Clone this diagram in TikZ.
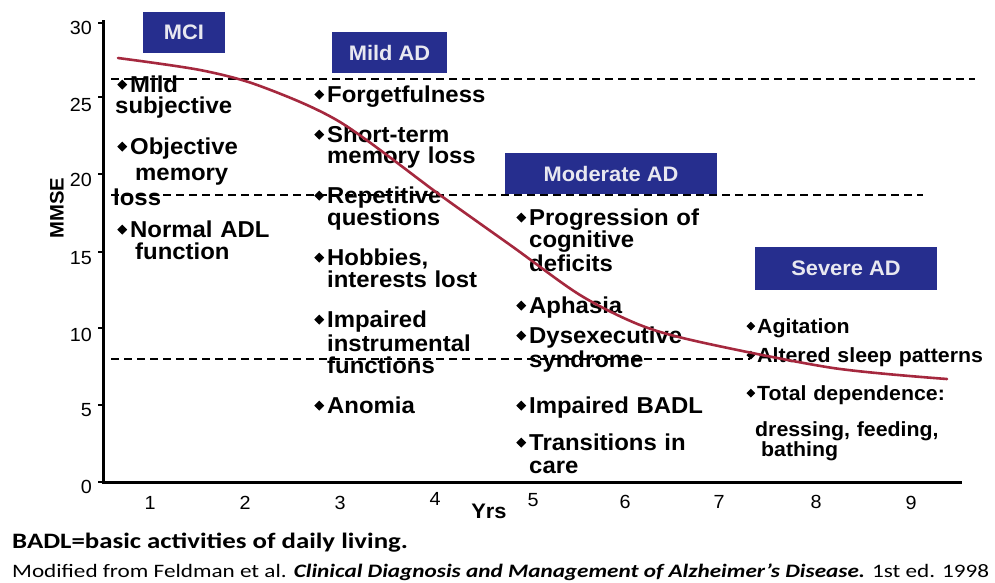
\documentclass[tikz,border=0pt]{standalone}
\usepackage{fontspec}
\usepackage{graphicx}
\setmainfont{Liberation Sans}
\newfontfamily\chartfont{Liberation Sans}[FakeStretch=1.04]
\newfontfamily\notefont{Carlito}[FakeStretch=1.22]
\definecolor{navy}{RGB}{38,46,142}
\definecolor{boxtext}{RGB}{232,232,240}
\definecolor{curvered}{RGB}{165,40,62}
\newcommand\dm[1][15pt]{\makebox[#1][r]{\raisebox{2.5pt}{\rotatebox{45}{\rule{7pt}{7pt}}}\hspace{3pt}}}
\newcommand\dms[1][13pt]{\makebox[#1][r]{\raisebox{2.5pt}{\rotatebox{45}{\rule{6.2pt}{6.2pt}}}\hspace{2pt}}}
\tikzset{
  stagebox/.style={fill=navy, minimum height=41pt, inner sep=0pt, text=boxtext,
    font=\chartfont\bfseries\fontsize{21}{21}\selectfont},
  item/.style={anchor=base west, inner sep=0pt, text width=270pt, align=left,
    font=\chartfont\bfseries\fontsize{23}{22.5}\selectfont},
  sitem/.style={item, font=\chartfont\bfseries\fontsize{20.5}{20}\selectfont},
  ticklabel/.style={inner sep=0pt, font=\chartfont\fontsize{19}{19}\selectfont},
  guide/.style={dash pattern=on 8pt off 5pt, line width=1.3pt},
  axisline/.style={line width=3pt},
  curveline/.style={curvered, line width=2.6pt, line cap=round},
  notetext/.style={anchor=base west, inner sep=0pt}
}
\begin{document}
\begin{tikzpicture}[x=1pt, y=-1pt]
\fill[white] (0,0) rectangle (995,582);
\useasboundingbox (0,0) rectangle (995,582);

% guide lines
\draw[guide] (111,79) coordinate (g1a) -- (975,79) coordinate (g1b);
\draw[guide] (111,195) coordinate (g2a) -- (923,195) coordinate (g2b);
\draw[guide] (111,359) coordinate (g3a) -- (750,359) coordinate (g3b);

% axes
\coordinate (ytop) at (103,20);
\coordinate (origin) at (103,482);
\coordinate (xend) at (962,482);
\draw[axisline] (ytop) -- (origin) -- (xend);
\foreach \v/\ty/\ly in {30/23/28, 25/97/105, 20/174/180, 15/252/258, 10/328/335, 5/405/410, 0/482/487}{
  \draw[line width=1.5pt] (98,\ty) -- (103,\ty);
  \node[ticklabel, anchor=east] (y\v) at (92,\ly) {\v};
}
\foreach \v/\lx/\ly in {1/150/503, 2/245/503, 3/340/503, 4/435/499, 5/533/500, 6/625/502, 7/719/502, 8/816/502, 9/911/503}{
  \node[ticklabel] (x\v) at (\lx,\ly) {\v};
}
\node[inner sep=0pt, font=\chartfont\bfseries\fontsize{21}{21}\selectfont] (yrs) at (489,511) {Yrs};
\node[inner sep=0pt, rotate=90, font=\chartfont\bfseries\fontsize{19.5}{19.5}\selectfont] (mmse) at (57,208) {MMSE};

% stage boxes
\node[stagebox, minimum width=82pt] (mci) at (184,32.5) {MCI};
\node[stagebox, minimum width=115pt] (mild) at (389.5,52.5) {Mild AD};
\node[stagebox, minimum width=212pt] (moderate) at (611,173.5) {Moderate AD};
\node[stagebox, minimum width=182pt, minimum height=43pt] (severe) at (846,268.5) {Severe AD};

% MCI items
\node[item] (mci1) at (115,92) {\dm Mild\\[-1pt]\hspace*{0pt}subjective};
\node[item] (mci2) at (115,154) {\dm Objective\\[4pt]\hspace*{20pt}memory\\[2pt]\hspace*{-2pt}loss};
\node[item] (mci3) at (115,237) {\dm Normal ADL\\\hspace*{20pt}function};

% Mild AD items
\node[item] (m1) at (312,102) {\dm Forgetfulness};
\node[item] (m2) at (312,142) {\dm Short-term\\[-1.5pt]\hspace*{15pt}memory loss};
\node[item] (m3) at (312,203) {\dm Repetitive\\[-0.5pt]\hspace*{15pt}questions};
\node[item] (m4) at (312,265) {\dm Hobbies,\\\hspace*{15pt}interests lost};
\node[item] (m5) at (312,327) {\dm Impaired\\[1.5pt]\hspace*{15pt}instrumental\\[-0.5pt]\hspace*{15pt}functions};
\node[item] (m6) at (312,413) {\dm Anomia};

% Moderate AD items
\node[item] (d1) at (514,225) {\dm Progression of\\\hspace*{15pt}cognitive\\[1pt]\hspace*{15pt}deficits};
\node[item] (d2) at (514,313) {\dm Aphasia};
\node[item] (d3) at (514,343) {\dm Dysexecutive\\[1.5pt]\hspace*{15pt}syndrome};
\node[item] (d4) at (514,413) {\dm Impaired BADL};
\node[item] (d5) at (514,450) {\dm Transitions in\\[0.5pt]\hspace*{15pt}care};

% Severe AD items
\node[sitem] (s1) at (744,333) {\dms Agitation};
\node[sitem] (s2) at (744,362) {\dms Altered sleep patterns};
\node[sitem] (s3) at (744,400) {\dms Total dependence:};
\node[sitem] (s4) at (755,436) {dressing, feeding,\\[0pt]\hspace*{6pt}bathing};

% decline curve
\draw[curveline] plot[smooth, tension=0.5] coordinates {(118,58) (200,70) (260,86) (340,122) (440,195) (513,247) (580,295) (640,325) (700,342) (833,368) (947,379)};

% footnotes
\node[notetext, font=\notefont\bfseries\fontsize{22}{22}\selectfont] (note1) at (12,548) {BADL=basic activities of daily living.};
\node[notetext, font=\notefont\fontsize{19}{19}\selectfont] (note2) at (12,577) {Modified from Feldman et al. {\bfseries\itshape Clinical Diagnosis and Management of Alzheimer’s Disease.} 1st ed. 1998};
\end{tikzpicture}
\end{document}
